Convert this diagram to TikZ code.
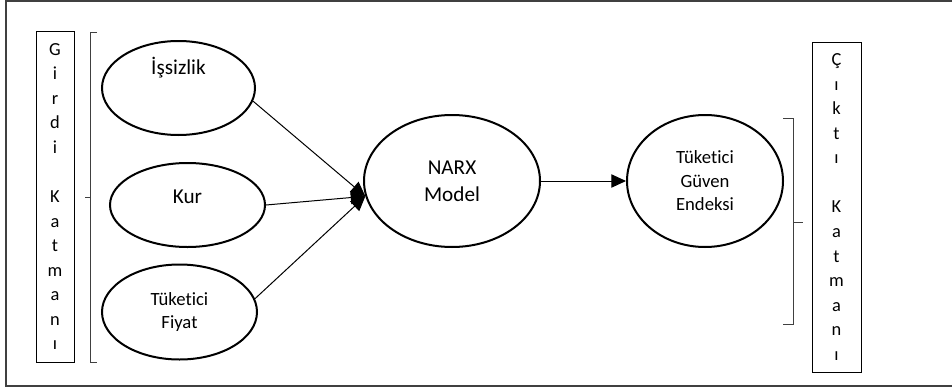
\documentclass[tikz,border=0pt]{standalone}
\usepackage{fontspec}
\setmainfont{Carlito}[Ligatures=NoCommon]
\usetikzlibrary{arrows.meta, shapes.geometric}

\begin{document}
\begin{tikzpicture}[x=0.75pt, y=-0.75pt,
  oval/.style={ellipse, draw, line width=1.5pt, inner sep=0pt, align=center},
  big/.style={font=\fontsize{15.9}{20.2}\selectfont},
  small/.style={font=\fontsize{14}{17.6}\selectfont},
  layer/.style={draw, line width=0.75pt, inner sep=0pt, align=center,
    font=\fontsize{13.8}{18.4}\selectfont},
  brace/.style={draw=black!75, line width=0.75pt},
  frame/.style={draw=black!75, line width=1.1pt},
  >={Triangle[length=11pt, width=10pt]}]

\useasboundingbox (0,0) rectangle (952,389);

% Outer frame
\draw[frame] (956,1) -- (6,1) -- (6,386) -- (956,386);

% Input layer
\node[layer, minimum width=28.5pt, minimum height=248.25pt] (girdi) at (55,196.5)
  {G\\i\\r\\d\\i\\\mbox{}\\K\\a\\t\\m\\a\\n\\ı};
\draw[brace] (97,32) -- (90,32) -- (90,362) -- (97,362);
\draw[brace] (90,197) -- (85,197);

\node[oval, minimum width=114.75pt, minimum height=70.5pt,
  label={[big, yshift=15pt]center:İşsizlik}] (issizlik) at (178.5,88) {};
\node[oval, big, minimum width=116.25pt, minimum height=63pt,
  label={[big, yshift=6pt]center:Kur}] (kur) at (187.5,205) {};
\node[oval, small, minimum width=116.25pt, minimum height=71.25pt] (fiyat) at (179.5,312)
  {Tüketici\\Fiyat};

% Model
\node[oval, big, minimum width=132pt, minimum height=99pt] (narx) at (452,181)
  {NARX\\Model};

% Output layer
\node[oval, small, minimum width=117pt, minimum height=99pt] (guven) at (705,181)
  {Tüketici\\Güven\\Endeksi};
\node[layer, minimum width=36.75pt, minimum height=247.5pt] (cikti) at (836.5,207)
  {Ç\\ı\\k\\t\\ı\\\mbox{}\\K\\a\\t\\m\\a\\n\\ı};
\draw[brace] (783,118) -- (793,118) -- (793,324) -- (783,324);
\draw[brace] (793,222) -- (803,222);

% Connections
\draw[->, line width=0.75pt] (issizlik.-10) -- (narx.190);
\draw[->, line width=0.75pt] (kur.east) -- (narx.190);
\draw[->, line width=0.75pt] (fiyat.10) -- (narx.190);
\draw[->, line width=0.75pt] (narx) -- (guven);

\end{tikzpicture}
\end{document}
